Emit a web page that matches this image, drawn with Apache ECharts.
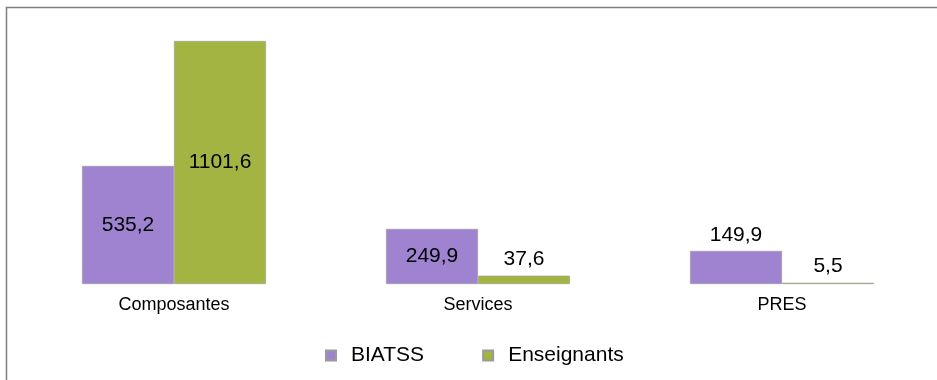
<!DOCTYPE html>
<html>
<head>
<meta charset="utf-8">
<script src="https://cdn.jsdelivr.net/npm/echarts@6/dist/echarts.min.js"></script>
<style>
  html, body { margin: 0; padding: 0; background: #fff; }
  #chart { width: 937px; height: 380px; }
</style>
</head>
<body>
<div id="chart"></div>
<script>
// Effectifs par structure
const categories = ['Composantes', 'Services', 'PRES'];
const seriesNames = ['BIATSS', 'Enseignants'];
const biatss = [535.2, 249.9, 149.9];
const enseignants = [1101.6, 37.6, 5.5];

const colors = ['#9f82d0', '#a4b443'];

// Labels sit inside tall bars and above short ones
function toData(values) {
  return values.map(v => ({
    value: v,
    label: { position: v > 200 ? 'inside' : 'top' }
  }));
}

const fmt = p => String(p.value).replace('.', ',');
const font = 'Liberation Sans, Arial, sans-serif';

const chart = echarts.init(document.getElementById('chart'), null, { renderer: 'canvas' });
chart.setOption({
  animation: false,
  textStyle: { fontFamily: font },
  graphic: [{
    type: 'rect',
    shape: { x: 6.5, y: 7.5, width: 1000, height: 1000 },
    style: { fill: 'none', stroke: '#808080', lineWidth: 1.5 },
    silent: true
  }],
  grid: { left: 22, right: 3, top: 19.3, bottom: 96, containLabel: false },
  legend: {
    data: seriesNames,
    bottom: 9,
    left: 320,
    icon: 'rect',
    itemWidth: 10,
    itemHeight: 10,
    itemGap: 58,
    textStyle: { fontSize: 21, color: '#000', fontFamily: font, padding: [0, 0, 0, 10] }
  },
  xAxis: {
    type: 'category',
    data: categories,
    axisLine: { show: false },
    axisTick: { show: false },
    axisLabel: { fontSize: 18, color: '#000', margin: 12 }
  },
  yAxis: {
    type: 'value',
    min: 0,
    max: 1200,
    show: false,
    splitLine: { show: false }
  },
  series: [
    {
      name: seriesNames[0],
      type: 'bar',
      data: toData(biatss),
      barGap: '0%',
      barCategoryGap: '39.5%',
      itemStyle: { color: colors[0], borderColor: '#9a9a9a', borderWidth: 0.6 },
      label: { show: true, fontSize: 21, color: '#000', formatter: fmt, distance: 5 }
    },
    {
      name: seriesNames[1],
      type: 'bar',
      data: toData(enseignants),
      barGap: '0%',
      barCategoryGap: '39.5%',
      itemStyle: { color: colors[1], borderColor: '#9a9a9a', borderWidth: 0.6 },
      label: { show: true, fontSize: 21, color: '#000', formatter: fmt, distance: 6 }
    }
  ]
});
</script>
</body>
</html>
